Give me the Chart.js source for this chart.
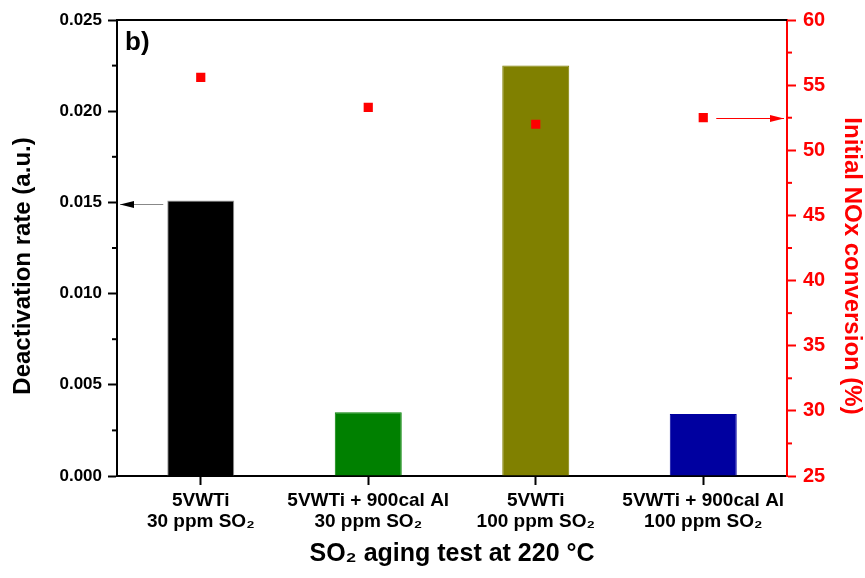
<!DOCTYPE html>
<html>
<head>
<meta charset="utf-8">
<script src="https://cdn.jsdelivr.net/npm/chart.js@4/dist/chart.umd.min.js"></script>
<style>
  html, body { margin: 0; padding: 0; background: #fff; }
  #wrap { width: 865px; height: 578px; }
</style>
</head>
<body>
<div id="wrap"><canvas id="mychart"></canvas></div>
<script>
// data
var categories = [
    ['5VWTi', '30 ppm SO₂'],
    ['5VWTi + 900cal Al', '30 ppm SO₂'],
    ['5VWTi', '100 ppm SO₂'],
    ['5VWTi + 900cal Al', '100 ppm SO₂']
]
var deactivationRate = [0.0151, 0.0035, 0.0225, 0.0034]
var noxConversion = [55.6, 53.3, 52.0, 52.5]
var barColors = ['#000000', '#008000', '#808000', '#0000a0']
var leftRange = [0, 0.025, 0.005]
var rightRange = [25, 60, 5]
var leftTitle = 'Deactivation rate (a.u.)'
var rightTitle = 'Initial NOx conversion (%)'

var FONT = "'Liberation Sans', Arial, sans-serif"

function arrow(ctx, x1, y, x2, color, headColor) {
    ctx.save()
    ctx.strokeStyle = color
    ctx.lineWidth = 1
    ctx.beginPath()
    ctx.moveTo(x1, y + 0.5)
    ctx.lineTo(x2, y + 0.5)
    ctx.stroke()
    var dir = x2 > x1 ? 1 : -1
    ctx.fillStyle = headColor
    ctx.beginPath()
    ctx.moveTo(x2, y + 0.5)
    ctx.lineTo(x2 - dir * 14, y - 3)
    ctx.lineTo(x2 - dir * 14, y + 4)
    ctx.closePath()
    ctx.fill()
    ctx.restore()
}

function vtext(ctx, text, x, y, angle, color) {
    ctx.save()
    ctx.translate(x, y)
    ctx.rotate(angle)
    ctx.fillStyle = color
    ctx.font = 'bold 24px ' + FONT
    ctx.textAlign = 'center'
    ctx.textBaseline = 'middle'
    ctx.fillText(text, 0, 0)
    ctx.restore()
}

var decorations = {
    id: 'decorations',
    afterDraw: function (chart) {
        var ctx = chart.ctx
        var area = chart.chartArea
        var y = chart.scales.y
        var y2 = chart.scales.y2

        // top frame line
        ctx.save()
        ctx.strokeStyle = '#000'
        ctx.lineWidth = 2
        ctx.beginPath()
        ctx.moveTo(area.left, area.top)
        ctx.lineTo(area.right, area.top)
        ctx.stroke()

        // minor ticks half way between major ones
        for (var i = 0; i < y.ticks.length - 1; i++) {
            var py = (y.getPixelForValue(y.ticks[i].value) + y.getPixelForValue(y.ticks[i + 1].value)) / 2
            ctx.strokeStyle = '#000'
            ctx.beginPath()
            ctx.moveTo(area.left - 5, py)
            ctx.lineTo(area.left, py)
            ctx.stroke()
        }
        for (var j = 0; j < y2.ticks.length - 1; j++) {
            var py2 = (y2.getPixelForValue(y2.ticks[j].value) + y2.getPixelForValue(y2.ticks[j + 1].value)) / 2
            ctx.strokeStyle = '#ff0000'
            ctx.beginPath()
            ctx.moveTo(area.right, py2)
            ctx.lineTo(area.right + 5, py2)
            ctx.stroke()
        }

        // panel label
        ctx.fillStyle = '#000'
        ctx.font = 'bold 26px ' + FONT
        ctx.textBaseline = 'middle'
        ctx.textAlign = 'left'
        ctx.fillText('b)', area.left + 8, area.top + 23)
        ctx.restore()

        // axis titles (sit a bit below the plot centre in the original)
        var cy = (area.top + area.bottom) / 2 + 18
        vtext(ctx, leftTitle, 23, cy, -Math.PI / 2, '#000')
        vtext(ctx, rightTitle, 852, cy, Math.PI / 2, '#ff0000')

        // arrows pointing to the axis each series belongs to
        var bar0 = chart.getDatasetMeta(0).data[0]
        var ay = Math.round(y.getPixelForValue(deactivationRate[0])) + 3
        arrow(ctx, bar0.x - bar0.width / 2 - 4, ay, area.left + 3, '#888', '#000')

        var pt3 = chart.getDatasetMeta(1).data[3]
        var by = Math.round(y2.getPixelForValue(noxConversion[3]))
        arrow(ctx, pt3.x + 13, by, area.right - 3, '#ff0000', '#ff0000')
    }
}

var ctx = document.getElementById('mychart')

var mychart = new Chart(ctx, {
    type: 'bar',
    data: {
        labels: categories,
        datasets: [{
            label: 'Deactivation rate',
            data: deactivationRate,
            backgroundColor: barColors,
            borderColor: ['#999', barColors[1], barColors[2], barColors[3]],
            borderWidth: 1,
            barPercentage: 0.4,
            categoryPercentage: 1,
            yAxisID: 'y',
            order: 2
        }, {
            type: 'line',
            label: 'Initial NOx conversion',
            data: noxConversion,
            showLine: false,
            pointStyle: 'rect',
            pointRadius: 6.5,
            pointBorderWidth: 0,
            backgroundColor: '#ff0000',
            borderColor: '#ff0000',
            yAxisID: 'y2',
            order: 1
        }]
    },
    options: {
        responsive: true,
        maintainAspectRatio: false,
        animation: false,
        layout: { padding: { left: 10, right: 0, top: 20, bottom: 8 } },
        plugins: {
            legend: { display: false },
            tooltip: { enabled: false }
        },
        scales: {
            x: {
                offset: true,
                grid: { offset: false, drawOnChartArea: false, drawTicks: true, tickLength: 9, tickWidth: 2, color: '#000' },
                border: { display: true, color: '#000', width: 2 },
                ticks: {
                    color: '#000',
                    padding: 5,
                    maxRotation: 0,
                    autoSkip: false,
                    font: { family: FONT, size: 19, weight: 'bold', lineHeight: 1.12 }
                },
                title: {
                    display: true,
                    text: 'SO₂ aging test at 220 °C',
                    color: '#000',
                    padding: { top: 6, bottom: 1 },
                    font: { family: FONT, size: 25, weight: 'bold', lineHeight: 1.2 }
                },
                afterFit: function (s) { s.height = 94 }
            },
            y: {
                position: 'left',
                min: leftRange[0],
                max: leftRange[1],
                grid: { drawOnChartArea: false, drawTicks: true, tickLength: 9, tickWidth: 2, color: '#000' },
                border: { display: true, color: '#000', width: 2 },
                ticks: {
                    stepSize: leftRange[2],
                    color: '#000',
                    padding: 6,
                    font: { family: FONT, size: 17, weight: 'bold' },
                    callback: function (v) { return v.toFixed(3) }
                },
                afterFit: function (s) { s.width = 107 }
            },
            y2: {
                position: 'right',
                min: rightRange[0],
                max: rightRange[1],
                grid: { drawOnChartArea: false, drawTicks: true, tickLength: 9, tickWidth: 2, color: '#ff0000' },
                border: { display: true, color: '#ff0000', width: 2 },
                ticks: {
                    stepSize: rightRange[2],
                    color: '#ff0000',
                    padding: 7,
                    font: { family: FONT, size: 20, weight: 'bold' }
                },
                afterFit: function (s) { s.width = 78 }
            }
        }
    },
    plugins: [decorations]
})
</script>
</body>
</html>
